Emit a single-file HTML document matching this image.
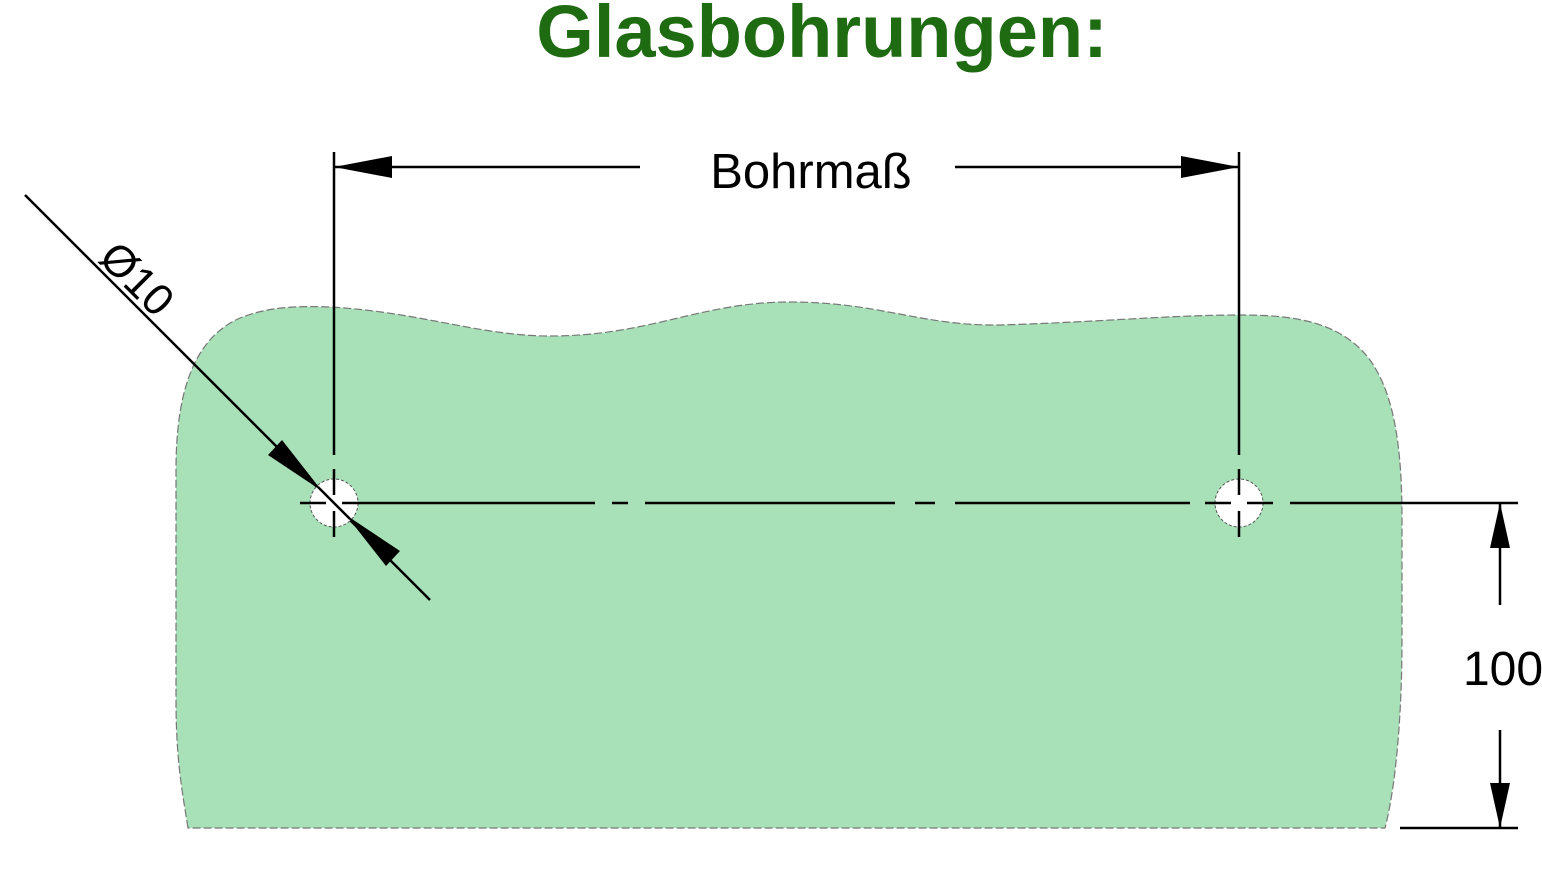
<!DOCTYPE html>
<html><head><meta charset="utf-8"><style>
html,body{margin:0;padding:0;background:#fff;}
svg{display:block;}
</style></head><body>
<svg width="1542" height="877" viewBox="0 0 1542 877" xmlns="http://www.w3.org/2000/svg">
<text x="822" y="57" text-anchor="middle" font-family="Liberation Sans, sans-serif" font-weight="bold" font-size="74" fill="#1e6b12">Glasbohrungen:</text>
<path d="M188,828 C182,790 176,760 176,700 L176,470 C176,400 190,340 240,318 C270,306 300,306 330,307 C420,312 480,336 550,336 C650,336 700,302 790,302 C880,302 920,326 1000,325 C1100,322 1170,315 1240,315 C1290,315 1340,320 1370,360 C1395,395 1402,450 1402,520 L1402,640 C1402,720 1395,790 1385,828 Z" fill="#a8e0b8" stroke="#777" stroke-width="1.2" stroke-dasharray="8 3"/>
<g stroke="#000" stroke-width="2.5" fill="none">
<line x1="334" y1="152" x2="334" y2="455"/>
<line x1="1239" y1="152" x2="1239" y2="455"/>
<line x1="334" y1="167" x2="640" y2="167"/>
<line x1="955" y1="167" x2="1239" y2="167"/>
<line x1="360" y1="503" x2="595" y2="503"/>
<line x1="612" y1="503" x2="628" y2="503"/>
<line x1="645" y1="503" x2="895" y2="503"/>
<line x1="915" y1="503" x2="935" y2="503"/>
<line x1="955" y1="503" x2="1190" y2="503"/>
<line x1="1290" y1="503" x2="1518" y2="503"/>
<line x1="1400" y1="828" x2="1518" y2="828"/>
<line x1="1500" y1="503" x2="1500" y2="605"/>
<line x1="1500" y1="730" x2="1500" y2="828"/>
<line x1="25" y1="195" x2="430" y2="600"/>
</g>
<g fill="#fff" stroke="#555" stroke-width="1" stroke-dasharray="3 2">
<circle cx="334" cy="503" r="24"/>
<circle cx="1239" cy="503" r="24"/>
</g>
<g stroke="#000" stroke-width="2.5">
<line x1="300" y1="503" x2="326" y2="503"/><line x1="342" y1="503" x2="360" y2="503"/>
<line x1="334" y1="469" x2="334" y2="495"/><line x1="334" y1="511" x2="334" y2="537"/>
<line x1="1205" y1="503" x2="1231" y2="503"/><line x1="1247" y1="503" x2="1273" y2="503"/>
<line x1="1239" y1="469" x2="1239" y2="495"/><line x1="1239" y1="511" x2="1239" y2="537"/>
<line x1="318" y1="487" x2="350" y2="519"/>
</g>
<g fill="#000">
<polygon points="334,167 392,156 392,178"/>
<polygon points="1239,167 1181,156 1181,178"/>
<polygon points="1500,503 1490,548 1510,548"/>
<polygon points="1500,828 1490,783 1510,783"/>
<polygon points="322,491 268,455 282,440"/>
<polygon points="346,515 400,551 386,566"/>
</g>
<text x="811" y="188" text-anchor="middle" font-family="Liberation Sans, sans-serif" font-size="49" fill="#000">Bohrmaß</text>
<text x="1503" y="685" text-anchor="middle" font-family="Liberation Sans, sans-serif" font-size="48" fill="#000">100</text>
<text x="0" y="0" transform="translate(97,260) rotate(45)" font-family="Liberation Sans, sans-serif" font-size="44" fill="#000">Ø10</text>
</svg>
</body></html>
